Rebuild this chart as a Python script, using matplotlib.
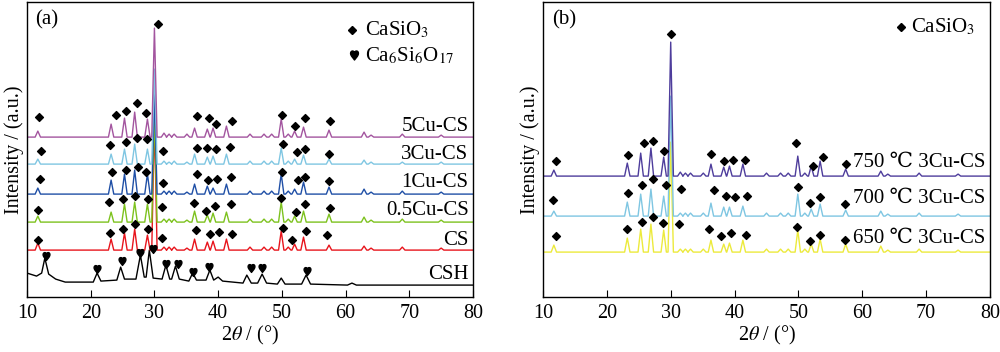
import numpy as np
import matplotlib
matplotlib.use('Agg')
import matplotlib.pyplot as plt

plt.rcParams['font.family'] = ['Liberation Serif', 'DejaVu Serif', 'DejaVu Sans']
plt.rcParams['mathtext.fontset'] = 'stix'

# --- dados ---
# posições comuns dos picos de CaSiO3 (2θ)
PICOS_2T = [11.7, 23.2, 25.3, 26.9, 28.9, 30.0, 31.5, 32.3, 33.1, 35.1, 36.3, 38.3, 39.2,
            41.3, 45.0, 47.2, 48.4, 49.9, 51.0, 52.0, 53.4, 57.4, 62.9, 64.0, 68.9, 75.0]

# painel (a)
AMOSTRAS_A = ['5Cu-CS', '3Cu-CS', '1Cu-CS', '0.5Cu-CS', 'CS']
CORES_A = ['#a3559f', '#7fc6e2', '#1f4fa6', '#7dc21e', '#e8141c']
BASE_A = [160, 133, 103, 75, 47]
ALTURAS_A = [
    [6, 13, 19, 25, 18, 109, 4, 3, 3, 3, 9, 8, 9, 11, 3, 3, 3, 18, 3, 6, 10, 7, 5, 2, 3, 2],
    [5, 10, 15, 20, 15, 95, 3, 2, 3, 2, 10, 7, 8, 10, 3, 3, 3, 16, 3, 5, 9, 5, 4, 2, 2, 2],
    [6, 14, 20, 24, 20, 100, 3, 3, 3, 2, 10, 8, 6, 10, 3, 3, 3, 20, 3, 5, 12, 7, 5, 2, 3, 2],
    [6, 10, 18, 20, 18, 110, 3, 3, 3, 2, 11, 7, 9, 10, 3, 3, 3, 20, 3, 6, 11, 8, 5, 2, 3, 2],
    [7, 11, 17, 21, 15, 130, 3, 3, 3, 2, 11, 8, 9, 11, 3, 3, 3, 19, 3, 6, 13, 5, 4, 2, 3, 2],
]
LOSANGO_X_A = [
    [11.9, 24.0, 25.5, 27.3, 28.7, 30.6, 36.7, 38.6, 39.7, 42.2, 50.0, 52.1, 53.6, 57.6],
    [12.2, 23.0, 25.5, 27.3, 28.8, 31.4, 36.7, 38.3, 39.7, 41.9, 50.2, 52.4, 53.6, 57.4],
    [12.0, 23.3, 25.5, 27.4, 28.7, 31.3, 36.7, 38.4, 39.8, 42.0, 50.0, 52.5, 53.6, 57.4],
    [11.7, 22.9, 25.1, 27.0, 29.0, 31.2, 36.2, 38.1, 39.5, 42.0, 49.9, 52.2, 53.6, 57.6],
    [11.7, 23.0, 25.1, 27.0, 29.0, 31.2, 36.5, 38.7, 40.1, 42.1, 50.2, 51.6, 53.8, 57.1],
]
LOSANGO_Y_A = [
    [180, 182, 186, 194, 184, 273, 181, 179, 173, 176, 182, 171, 179, 176],
    [146, 152, 155, 159, 158, 146, 149, 149, 148, 150, 153, 145, 148, 143],
    [118, 125, 127, 130, 125, 114, 123, 117, 118, 120, 125, 117, 120, 116],
    [87, 95, 98, 101, 98, 90, 94, 86, 91, 93, 99, 85, 93, 89],
    [57, 64, 68, 73, 68, 59, 67, 63, 65, 63, 69, 57, 66, 62],
]
ROTULO_Y_A = [171, 143, 115, 87, 57, 23]

# CSH (Ca6Si6O17)
CSH_2T = [10, 11.5, 12.3, 12.8, 13.4, 14.5, 16, 20.4, 21.0, 21.6, 24.1, 24.7, 25.3, 27.1, 27.8,
          28.4, 28.7, 29.2, 29.8, 31.2, 31.8, 32.4, 32.7, 33.3, 33.9, 35.4, 36.0, 36.6, 38.1,
          38.7, 39.3, 40.0, 40.7, 43.9, 44.5, 45.2, 46.2, 46.9, 47.6, 49.3, 49.9, 50.5, 53.1,
          53.8, 54.5, 60.3, 61.0, 61.7, 80]
CSH_INT = [24, 21, 24, 39, 23, 18, 15, 15, 24, 16, 17, 30, 18, 18, 42, 20, 20, 47, 19, 18, 32,
           18, 18, 31, 18, 16, 24, 17, 17, 27, 17, 20, 16, 14, 22, 14, 14, 23, 14, 13, 19, 13,
           13, 22, 13, 12, 14, 12, 12]
CORACAO_X = [13.0, 21.0, 24.9, 27.7, 29.8, 31.8, 33.7, 36.0, 38.6, 45.2, 46.9, 54.0]
CORACAO_Y = [41, 28, 36, 44, 48, 33, 33, 25, 30, 29, 29, 26]

# painel (b)
AMOSTRAS_B = ['750 ℃ 3Cu-CS', '700 ℃ 3Cu-CS', '650 ℃ 3Cu-CS']
CORES_B = ['#4e3d9c', '#7fc6e2', '#ecea3c']
BASE_B = [121, 81, 45]
ALTURAS_B = [
    [6, 13, 23, 28, 19, 134, 4, 3, 3, 3, 12, 9, 10, 12, 3, 3, 3, 20, 3, 10, 15, 7, 5, 2, 3, 2],
    [5, 14, 22, 27, 20, 120, 3, 3, 3, 3, 13, 9, 9, 10, 3, 3, 3, 22, 3, 7, 12, 6, 5, 2, 3, 2],
    [7, 14, 23, 28, 22, 110, 3, 3, 3, 3, 12, 8, 9, 12, 3, 3, 3, 22, 3, 8, 13, 8, 6, 2, 3, 2],
]
LOSANGO_X_B = [
    [12.0, 23.3, 25.8, 27.2, 28.9, 30.0, 36.3, 38.3, 39.7, 41.6, 49.6, 52.3, 53.8, 57.4],
    [11.6, 23.3, 25.5, 27.2, 29.2, 31.6, 36.8, 38.6, 40.0, 41.9, 49.9, 51.8, 53.3, 57.3],
    [12.0, 23.1, 25.5, 27.2, 28.8, 31.3, 36.0, 37.9, 39.4, 41.8, 49.7, 51.8, 53.3, 57.3],
]
LOSANGO_Y_B = [
    [136, 142, 154, 156, 146, 263, 143, 136, 137, 137, 154, 131, 140, 133],
    [97, 104, 112, 118, 112, 108, 107, 101, 100, 101, 110, 94, 100, 93],
    [61, 68, 75, 80, 74, 73, 68, 61, 64, 62, 70, 56, 62, 57],
]
ROTULO_Y_B = [135, 99, 59]

LARGURA = 0.42  # meia largura da base de cada pico
FS = 15         # tamanho dos textos


def perfil(base, alturas):
    """Monta a linha do difratograma a partir da tabela de picos."""
    xs, ys = [10], [base]
    for p, h in zip(PICOS_2T, alturas):
        xs += [p - LARGURA, p, p + LARGURA]
        ys += [base, base + h, base]
    xs.append(80)
    ys.append(base)
    return xs, ys


def estilo(ax):
    ax.set_xlim(10, 80)
    ax.set_ylim(0, 295)
    ax.set_yticks([])
    ax.set_xticks(range(10, 81, 10))
    ax.tick_params(axis='x', direction='in', length=5, labelsize=14.5, pad=5)
    ax.set_xlabel(r'2$\it{\theta}$ / (°)', fontsize=14.5, labelpad=1)
    ax.set_ylabel('Intensity / (a.u.)', fontsize=14.5, labelpad=2)
    for s in ax.spines.values():
        s.set_linewidth(1.0)


fig = plt.figure(figsize=(10, 3.52), dpi=100)
ax1 = fig.add_axes([0.027, 0.156, 0.446, 0.838])
ax2 = fig.add_axes([0.543, 0.156, 0.447, 0.838])

# painel (a): de baixo para cima
ax1.plot(CSH_2T, CSH_INT, color='black', lw=1.0)
ax1.scatter(CORACAO_X, CORACAO_Y, marker='$♥$', s=32, color='black', zorder=5)
for i in reversed(range(len(AMOSTRAS_A))):
    xs, ys = perfil(BASE_A[i], ALTURAS_A[i])
    ax1.plot(xs, ys, color=CORES_A[i], lw=1.0)
    ax1.scatter(LOSANGO_X_A[i], LOSANGO_Y_A[i], marker='D', s=16, color='black', zorder=5)
for nome, y in zip(AMOSTRAS_A + ['CSH'], ROTULO_Y_A):
    ax1.text(79.3, y, nome, ha='right', va='center', fontsize=FS)

ax1.text(0.018, 0.94, '(a)', transform=ax1.transAxes, fontsize=FS, va='center')
ax1.plot([0.729], [0.905], 'D', ms=4.5, color='black', transform=ax1.transAxes)
ax1.text(0.757, 0.905, r'CaSiO$_3$', transform=ax1.transAxes, fontsize=FS, va='center')
ax1.plot([0.733], [0.822], marker='$♥$', ms=6.5, color='black', transform=ax1.transAxes)
ax1.text(0.757, 0.818, r'Ca$_6$Si$_6$O$_{17}$', transform=ax1.transAxes, fontsize=FS, va='center')
estilo(ax1)

# painel (b)
for i in reversed(range(len(AMOSTRAS_B))):
    xs, ys = perfil(BASE_B[i], ALTURAS_B[i])
    ax2.plot(xs, ys, color=CORES_B[i], lw=1.0)
    ax2.scatter(LOSANGO_X_B[i], LOSANGO_Y_B[i], marker='D', s=16, color='black', zorder=5)
for nome, y in zip(AMOSTRAS_B, ROTULO_Y_B):
    ax2.text(79.2, y, nome, ha='right', va='center', fontsize=FS)

ax2.text(0.02, 0.94, '(b)', transform=ax2.transAxes, fontsize=FS, va='center')
ax2.plot([0.801], [0.915], 'D', ms=4.5, color='black', transform=ax2.transAxes)
ax2.text(0.823, 0.915, r'CaSiO$_3$', transform=ax2.transAxes, fontsize=FS, va='center')
estilo(ax2)

fig.savefig('out.png', dpi=100)
